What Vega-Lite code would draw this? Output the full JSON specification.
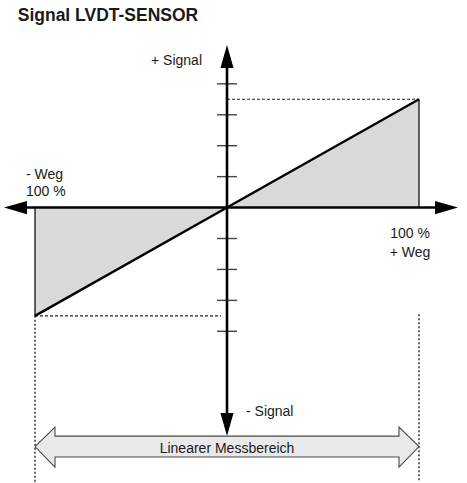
{
  "$schema": "https://vega.github.io/schema/vega-lite/v6.json",
  "width": 467,
  "height": 483,
  "autosize": {"type": "fit", "contains": "padding"},
  "padding": 0,
  "background": "white",
  "config": {"view": {"stroke": null}},
  "datasets": {
    "response": [
      {"x": -100, "y": -3.5},
      {"x": 0, "y": 0},
      {"x": 100, "y": 3.5}
    ],
    "edges": [
      {"x": -100, "x2": -100, "y": -3.5, "y2": 0},
      {"x": 100, "x2": 100, "y": 0, "y2": 3.5}
    ],
    "guides": [
      {"x": 0, "x2": 100, "y": 3.5, "y2": 3.5},
      {"x": -100, "x2": -3.1, "y": -3.5, "y2": -3.5}
    ],
    "limits": [
      {"x": -100, "x2": -100, "y": -3.5, "y2": -8.871},
      {"x": 100, "x2": 100, "y": -3.45, "y2": -8.871}
    ],
    "axes": [
      {"x": -104.7, "x2": 108.9, "y": 0, "y2": 0},
      {"x": 0, "x2": 0, "y": 4.58, "y2": -7.06}
    ],
    "ticks": [
      {"x": -5.21, "x2": 5.21, "y": 4, "y2": 4},
      {"x": -5.21, "x2": 5.21, "y": 3, "y2": 3},
      {"x": -5.21, "x2": 5.21, "y": 2, "y2": 2},
      {"x": -5.21, "x2": 5.21, "y": 1, "y2": 1},
      {"x": -5.21, "x2": 5.21, "y": -1, "y2": -1},
      {"x": -5.21, "x2": 5.21, "y": -2, "y2": -2},
      {"x": -5.21, "x2": 5.21, "y": -3, "y2": -3},
      {"x": -5.21, "x2": 5.21, "y": -4, "y2": -4}
    ],
    "heads": [
      {"x": 0, "y": 4.887, "angle": 0},
      {"x": 0, "y": -7.016, "angle": 180},
      {"x": -110.16, "y": 0, "angle": 270},
      {"x": 114.32, "y": 0, "angle": 90}
    ],
    "range": [
      {"i": 0, "x": -100, "y": -7.726},
      {"i": 1, "x": -89.58, "y": -7.097},
      {"i": 2, "x": -89.58, "y": -7.387},
      {"i": 3, "x": 89.58, "y": -7.387},
      {"i": 4, "x": 89.58, "y": -7.097},
      {"i": 5, "x": 100, "y": -7.726},
      {"i": 6, "x": 89.58, "y": -8.387},
      {"i": 7, "x": 89.58, "y": -8.065},
      {"i": 8, "x": -89.58, "y": -8.065},
      {"i": 9, "x": -89.58, "y": -8.387},
      {"i": 10, "x": -100, "y": -7.726}
    ],
    "leftLabels": [
      {"x": -104.7, "y": 0.935, "text": "- Weg"},
      {"x": -104.7, "y": 0.365, "text": "100 %"},
      {"x": 9.9, "y": -6.75, "text": "- Signal"}
    ],
    "centerLabels": [
      {"x": 95.3, "y": -0.977, "text": "100 %"},
      {"x": 95.3, "y": -1.59, "text": "+ Weg"},
      {"x": 0, "y": -7.935, "text": "Linearer Messbereich"}
    ],
    "rightLabels": [
      {"x": -13.02, "y": 4.597, "text": "+ Signal"}
    ],
    "title": [
      {"x": -109.0, "y": 6.04, "text": "Signal LVDT-SENSOR"}
    ]
  },
  "encoding": {
    "x": {"field": "x", "type": "quantitative", "scale": {"domain": [-118.23, 125], "nice": false, "zero": false}, "axis": null},
    "y": {"field": "y", "type": "quantitative", "scale": {"domain": [-8.871, 6.71], "nice": false, "zero": false}, "axis": null}
  },
  "layer": [
    {
      "data": {"name": "response"},
      "mark": {"type": "area", "color": "#d8d9db"},
      "encoding": {"y2": {"datum": 0}}
    },
    {
      "data": {"name": "limits"},
      "mark": {"type": "rule", "color": "#222222", "strokeWidth": 1.4, "strokeDash": [2, 2]},
      "encoding": {"x2": {"field": "x2"}, "y2": {"field": "y2"}}
    },
    {
      "data": {"name": "guides"},
      "mark": {"type": "rule", "color": "#222222", "strokeWidth": 1.1, "strokeDash": [3, 2]},
      "encoding": {"x2": {"field": "x2"}, "y2": {"field": "y2"}}
    },
    {
      "data": {"name": "edges"},
      "mark": {"type": "rule", "color": "#111111", "strokeWidth": 1.3},
      "encoding": {"x2": {"field": "x2"}, "y2": {"field": "y2"}}
    },
    {
      "data": {"name": "ticks"},
      "mark": {"type": "rule", "color": "#444444", "strokeWidth": 1.4},
      "encoding": {"x2": {"field": "x2"}, "y2": {"field": "y2"}}
    },
    {
      "data": {"name": "response"},
      "mark": {"type": "line", "color": "#000000", "strokeWidth": 2.4},
      "encoding": {}
    },
    {
      "data": {"name": "axes"},
      "mark": {"type": "rule", "color": "#000000", "strokeWidth": 2.6},
      "encoding": {"x2": {"field": "x2"}, "y2": {"field": "y2"}}
    },
    {
      "data": {"name": "heads"},
      "mark": {"type": "point", "shape": "M0,-1L0.57,1L-0.57,1Z", "filled": true, "color": "#000000", "opacity": 1, "size": 529},
      "encoding": {"angle": {"field": "angle", "type": "quantitative", "scale": null}}
    },
    {
      "data": {"name": "range"},
      "mark": {"type": "line", "fill": "#e8e9e8", "stroke": "#4a4a4a", "strokeWidth": 1.1, "interpolate": "linear"},
      "encoding": {"order": {"field": "i", "type": "quantitative"}}
    },
    {
      "data": {"name": "leftLabels"},
      "mark": {"type": "text", "align": "left", "baseline": "alphabetic", "font": "Liberation Sans", "fontSize": 14, "color": "#1a1a1a"},
      "encoding": {"text": {"field": "text"}}
    },
    {
      "data": {"name": "centerLabels"},
      "mark": {"type": "text", "align": "center", "baseline": "alphabetic", "font": "Liberation Sans", "fontSize": 14, "color": "#1a1a1a"},
      "encoding": {"text": {"field": "text"}}
    },
    {
      "data": {"name": "rightLabels"},
      "mark": {"type": "text", "align": "right", "baseline": "alphabetic", "font": "Liberation Sans", "fontSize": 14, "color": "#1a1a1a"},
      "encoding": {"text": {"field": "text"}}
    },
    {
      "data": {"name": "title"},
      "mark": {"type": "text", "align": "left", "baseline": "alphabetic", "font": "Liberation Sans", "fontSize": 17.5, "fontWeight": "bold", "color": "#1a1a1a"},
      "encoding": {"text": {"field": "text"}}
    }
  ]
}
